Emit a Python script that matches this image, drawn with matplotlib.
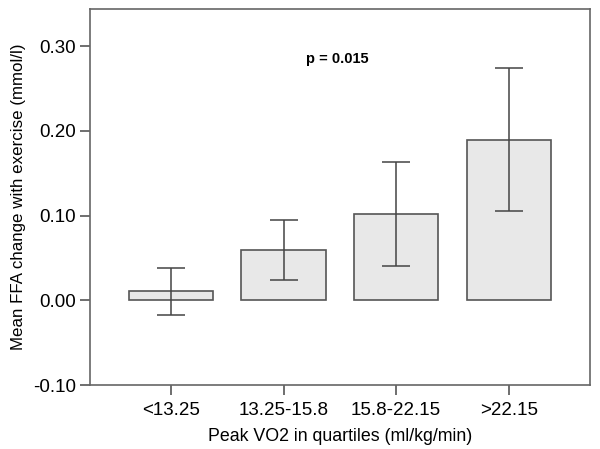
import matplotlib
matplotlib.use("Agg")
from matplotlib import pyplot as plt
import numpy as np

# values
groups = ["<13.25", "13.25-15.8", "15.8-22.15", ">22.15"]
means = [0.0106, 0.0598, 0.1023, 0.1897]
ci_low = [-0.0169, 0.0244, 0.041, 0.1054]
ci_high = [0.0386, 0.0945, 0.163, 0.274]
y_ticks = [-0.10, 0.00, 0.10, 0.20, 0.30]

plt.rcParams["font.family"] = ["Liberation Sans", "DejaVu Sans"]

fig = plt.figure(figsize=(6, 4.49), dpi=100)
ax = fig.add_axes([0.15, 0.1425, 0.833, 0.8375])

x = np.arange(len(groups))
means_a = np.array(means)
yerr = np.vstack([means_a - np.array(ci_low), np.array(ci_high) - means_a])

ax.bar(x, means, width=0.75, color="#e8e8e8", edgecolor="#555555", linewidth=1.2, zorder=2)
ax.errorbar(x, means, yerr=yerr, fmt="none", ecolor="#444444", elinewidth=1.1,
            capsize=10, capthick=1.1, zorder=3)

ax.set_xlim(-0.72, 3.72)
ax.set_ylim(-0.10, 0.344)
ax.set_yticks(y_ticks)
ax.set_yticklabels([f"{v:.2f}" for v in y_ticks], fontsize=13.5)
ax.set_xticks(x)
ax.set_xticklabels(groups, fontsize=13.5)
ax.tick_params(axis="both", direction="out", length=7, width=1.2, color="#555555", pad=3)
ax.tick_params(axis="x", pad=5)
for s in ax.spines.values():
    s.set_color("#666666")
    s.set_linewidth(1.2)

ax.set_xlabel("Peak VO2 in quartiles (ml/kg/min)", fontsize=12.8, labelpad=7)
ax.set_ylabel("Mean FFA change with exercise (mmol/l)", fontsize=12.2, labelpad=5)

ax.text(1.48, 0.285, "p = 0.015", fontsize=10.5, fontweight="bold", ha="center", va="center")

fig.savefig("out.png")
